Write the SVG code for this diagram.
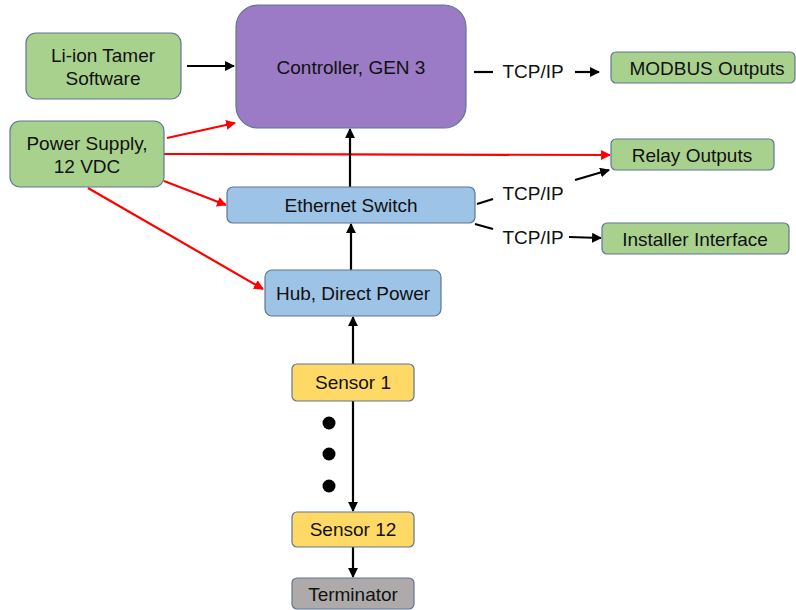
<svg xmlns="http://www.w3.org/2000/svg" width="796" height="610" viewBox="0 0 796 610">
<defs>
<style>
.box{stroke:#5e7792;stroke-width:1.2}
.g{fill:#a9d18e}.p{fill:#9b7bc5}.b{fill:#9dc3e6}.y{fill:#ffd966}.gr{fill:#aeaaaa}
text{font-family:"Liberation Sans",Arial,sans-serif;font-size:19px;fill:#111;text-anchor:middle;dominant-baseline:central}
.k{stroke:#000;stroke-width:2.2;fill:none}
.r{stroke:#f00;stroke-width:2.2;fill:none}
</style>
<marker id="ak" viewBox="0 0 10 10" refX="9" refY="5" markerWidth="4.5" markerHeight="4.5" orient="auto" markerUnits="strokeWidth"><path d="M0,0L10,5L0,10z" fill="#000"/></marker>
<marker id="ar" viewBox="0 0 10 10" refX="9" refY="5" markerWidth="4.5" markerHeight="4.5" orient="auto" markerUnits="strokeWidth"><path d="M0,0L10,5L0,10z" fill="#f00"/></marker>
</defs>
<rect width="796" height="610" fill="#fff"/>
<g id="connectors">
<line class="k" x1="187" y1="66" x2="234" y2="66" marker-end="url(#ak)"/>
<line class="r" x1="167" y1="138" x2="235" y2="123" marker-end="url(#ar)"/>
<line class="r" x1="164" y1="154" x2="610" y2="155" marker-end="url(#ar)"/>
<line class="r" x1="164" y1="181" x2="226" y2="205" marker-end="url(#ar)"/>
<line class="r" x1="88" y1="188" x2="263" y2="289" marker-end="url(#ar)"/>
<line class="k" x1="350" y1="187" x2="350" y2="129" marker-end="url(#ak)"/>
<line class="k" x1="351" y1="270" x2="351" y2="224" marker-end="url(#ak)"/>
<line class="k" x1="353" y1="364" x2="353" y2="317" marker-end="url(#ak)"/>
<line class="k" x1="353" y1="401" x2="353" y2="511" marker-end="url(#ak)"/>
<line class="k" x1="353" y1="547" x2="353" y2="577" marker-end="url(#ak)"/>
<line class="k" x1="474" y1="72" x2="493" y2="72"/>
<line class="k" x1="575" y1="72" x2="599" y2="72" marker-end="url(#ak)"/>
<line class="k" x1="477" y1="204" x2="493" y2="199"/>
<line class="k" x1="575" y1="180" x2="609" y2="170" marker-end="url(#ak)"/>
<line class="k" x1="475" y1="224" x2="493" y2="229"/>
<line class="k" x1="569" y1="237" x2="601" y2="238" marker-end="url(#ak)"/>
<circle cx="329" cy="423" r="6.5" fill="#000"/>
<circle cx="329" cy="454" r="6.5" fill="#000"/>
<circle cx="329" cy="486" r="6.5" fill="#000"/>
<text x="533" y="71">TCP/IP</text>
<text x="533" y="193">TCP/IP</text>
<text x="533" y="237">TCP/IP</text>
</g>
<g id="controller"><rect class="box p" x="236" y="5" width="230" height="123" rx="22"/><text x="351" y="67">Controller, GEN 3</text></g>
<g id="software"><rect class="box g" x="26" y="33" width="155" height="66" rx="10"/><text x="103" y="55">Li-ion Tamer</text><text x="103" y="78">Software</text></g>
<g id="power"><rect class="box g" x="10" y="121" width="154" height="66" rx="10"/><text x="87" y="143">Power Supply,</text><text x="87" y="166">12 VDC</text></g>
<g id="modbus"><rect class="box g" x="611" y="52" width="184" height="31" rx="5"/><text x="707" y="68">MODBUS Outputs</text></g>
<g id="relay"><rect class="box g" x="611" y="139" width="163" height="31" rx="5"/><text x="692" y="155">Relay Outputs</text></g>
<g id="installer"><rect class="box g" x="602" y="223" width="187" height="31" rx="5"/><text x="695" y="239">Installer Interface</text></g>
<g id="ethernet"><rect class="box b" x="227" y="187" width="248" height="36" rx="6"/><text x="351" y="205">Ethernet Switch</text></g>
<g id="hub"><rect class="box b" x="265" y="270" width="176" height="46" rx="7"/><text x="353" y="293">Hub, Direct Power</text></g>
<g id="sensor1"><rect class="box y" x="292" y="364" width="122" height="37" rx="5"/><text x="353" y="382">Sensor 1</text></g>
<g id="sensor12"><rect class="box y" x="292" y="512" width="122" height="35" rx="5"/><text x="353" y="529">Sensor 12</text></g>
<g id="terminator"><rect class="box gr" x="292" y="578" width="122" height="31" rx="5"/><text x="353" y="594">Terminator</text></g>
</svg>
